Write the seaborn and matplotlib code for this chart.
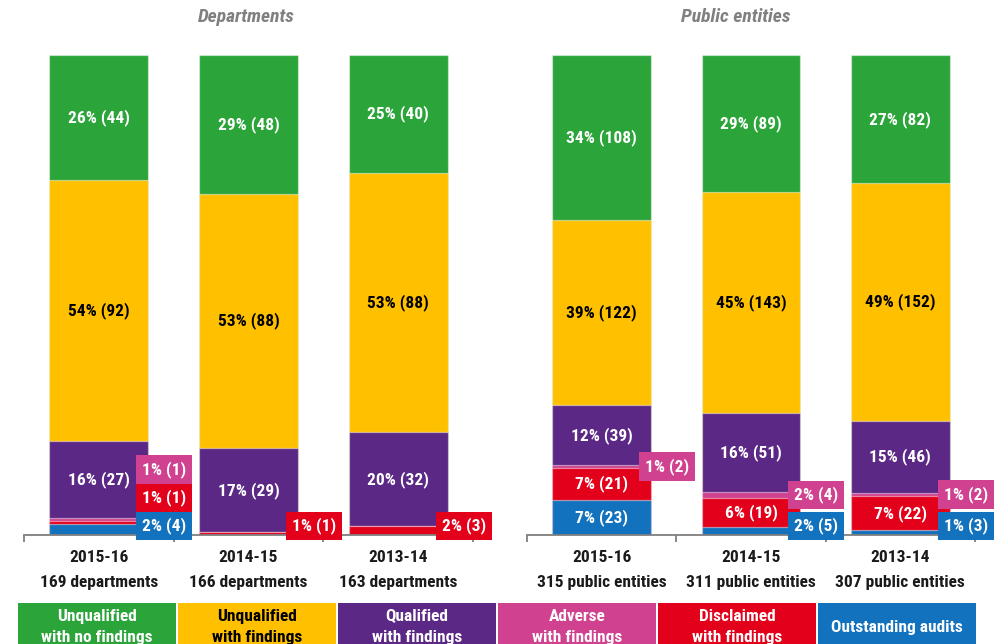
import numpy as np
import matplotlib
matplotlib.use("Agg")
import matplotlib.pyplot as plt
import seaborn as sns
from matplotlib import font_manager as fm
from matplotlib.patches import Rectangle

sns.set_theme(style="white")

# pick a narrow bold sans if one is installed
avail = {}
for f in fm.fontManager.ttflist:
    avail.setdefault(f.name, []).append(f)
FAMILY, STRETCH, SCALE = None, "normal", 1.0
for cand, sc in [("Liberation Sans Narrow", 1.0), ("Arial Narrow", 1.0),
                 ("Roboto Condensed", 1.0), ("Open Sans Condensed", 0.95),
                 ("Noto Sans Condensed", 0.95)]:
    if cand in avail:
        FAMILY, SCALE = cand, sc
        break
if FAMILY is None:
    for name, lst in avail.items():
        if ("Condensed" in name or "Narrow" in name) and "Mono" not in name \
                and "Serif" not in name and "CJK" not in name:
            FAMILY, SCALE = name, 0.95
            break
if FAMILY is None:
    if any(str(f.stretch) in ("condensed", "semi-condensed") for f in avail.get("DejaVu Sans", [])):
        FAMILY, STRETCH, SCALE = "DejaVu Sans", "condensed", 0.9
    else:
        FAMILY, SCALE = "Roboto", 0.86
plt.rcParams["font.family"] = [FAMILY, "DejaVu Sans"]
plt.rcParams["font.stretch"] = STRETCH

# ---------------- data ----------------
series = ["Unqualified\nwith no findings", "Unqualified\nwith findings",
          "Qualified\nwith findings", "Adverse\nwith findings",
          "Disclaimed\nwith findings", "Outstanding audits"]
years = ["2015-16", "2014-15", "2013-14"]

dept_totals = [169, 166, 163]
dept_unq_no = [44, 48, 40]
dept_unq_f = [92, 88, 88]
dept_qual = [27, 29, 32]
dept_adverse = [1, 0, 0]
dept_discl = [1, 1, 3]
dept_outst = [4, 0, 0]
dept_unq_no_pct = [26, 29, 25]
dept_unq_f_pct = [54, 53, 53]
dept_qual_pct = [16, 17, 20]
dept_adverse_pct = [1, 0, 0]
dept_discl_pct = [1, 1, 2]
dept_outst_pct = [2, 0, 0]

pe_totals = [315, 311, 307]
pe_unq_no = [108, 89, 82]
pe_unq_f = [122, 143, 152]
pe_qual = [39, 51, 46]
pe_adverse = [2, 4, 2]
pe_discl = [21, 19, 22]
pe_outst = [23, 5, 3]
pe_unq_no_pct = [34, 29, 27]
pe_unq_f_pct = [39, 45, 49]
pe_qual_pct = [12, 16, 15]
pe_adverse_pct = [1, 2, 1]
pe_discl_pct = [7, 6, 7]
pe_outst_pct = [7, 2, 1]

# ---------------- style ----------------
colors = ["#2BA43A", "#FFC000", "#5B2886", "#D0428F", "#E2001A", "#1372BD"]
text_colors = ["white", "black", "white", "white", "white", "white"]
LABEL_FS = 12.5 * SCALE
TITLE_FS = 14 * SCALE
BAR_W = 0.66
W, H = 995, 644

fig = plt.figure(figsize=(W / 100, H / 100), dpi=100)
axL = fig.add_axes([24 / W, 1 - 535 / H, 449 / W, 480 / H])
axR = fig.add_axes([527 / W, 1 - 535 / H, 448 / W, 480 / H])


def draw_panel(ax, counts, pcts, totals, unit):
    counts = np.array(counts, dtype=float)
    pcts = np.array(pcts)
    share = counts / np.array(totals, dtype=float) * 100
    bottoms = np.zeros_like(share)
    cum = np.zeros(share.shape[1])
    for k in range(len(series) - 1, -1, -1):
        bottoms[k] = cum
        cum = cum + share[k]
    tops = bottoms + share
    for k in range(len(series)):
        sns.barplot(x=years, y=tops[k], color=colors[k], saturation=1,
                    width=BAR_W, errorbar=None, edgecolor=(1, 1, 1, 0.45),
                    linewidth=0.9, ax=ax)
    half = 2.7
    for j in range(len(years)):
        low = -0.8
        for k in range(len(series) - 1, -1, -1):
            if counts[k, j] == 0:
                continue
            txt = f"{pcts[k, j]}% ({int(counts[k, j])})"
            center = bottoms[k, j] + share[k, j] / 2
            if share[k, j] >= 3:
                ax.text(j, center, txt, ha="center", va="center",
                        color=text_colors[k], fontsize=LABEL_FS, fontweight="bold")
            else:
                y = max(center, low + half)
                low = y + half + 0.5
                ax.annotate(txt, xy=(j + BAR_W / 2, y), xytext=(-4.3, 0),
                            textcoords="offset points", ha="left", va="center",
                            color="white", fontsize=LABEL_FS, fontweight="bold",
                            bbox=dict(boxstyle="square,pad=0.34", fc=colors[k], ec="none"),
                            annotation_clip=False, zorder=5)
    ax.set_xlim(-0.5, 2.5)
    ax.set_ylim(0, 100)
    for s in ["top", "left", "right"]:
        ax.spines[s].set_visible(False)
    ax.spines["bottom"].set_color("#7F7F7F")
    ax.spines["bottom"].set_linewidth(1.3)
    ax.set_xticks([-0.5, 0.5, 1.5, 2.5])
    ax.set_xticklabels([])
    ax.tick_params(axis="x", bottom=True, direction="out", length=5,
                   width=1.3, color="#7F7F7F")
    ax.set_yticks([])
    ax.set_xlabel("")
    ax.set_ylabel("")
    tr = ax.get_xaxis_transform()
    for j, yr in enumerate(years):
        ax.text(j, -27.5 / 480, yr, transform=tr, ha="center", va="baseline",
                fontsize=LABEL_FS, fontweight="bold", color="#1A1A1A")
        ax.text(j, -52 / 480, f"{totals[j]} {unit}", transform=tr, ha="center",
                va="baseline", fontsize=LABEL_FS, fontweight="bold", color="#1A1A1A")


draw_panel(axL,
           [dept_unq_no, dept_unq_f, dept_qual, dept_adverse, dept_discl, dept_outst],
           [dept_unq_no_pct, dept_unq_f_pct, dept_qual_pct, dept_adverse_pct,
            dept_discl_pct, dept_outst_pct],
           dept_totals, "departments")
draw_panel(axR,
           [pe_unq_no, pe_unq_f, pe_qual, pe_adverse, pe_discl, pe_outst],
           [pe_unq_no_pct, pe_unq_f_pct, pe_qual_pct, pe_adverse_pct,
            pe_discl_pct, pe_outst_pct],
           pe_totals, "public entities")

fig.text(246 / W, 1 - 17 / H, "Departments", ha="center", va="center",
         fontsize=TITLE_FS, fontweight="bold", fontstyle="italic", color="#808080")
fig.text(736 / W, 1 - 17 / H, "Public entities", ha="center", va="center",
         fontsize=TITLE_FS, fontweight="bold", fontstyle="italic", color="#808080")

for i, name in enumerate(series):
    x0 = 18 + 160 * i
    fig.patches.append(Rectangle((x0 / W, 1 - 670 / H), 158 / W, 67 / H,
                                 transform=fig.transFigure, fc=colors[i], ec="none"))
    lines = name.split("\n")
    xc = (x0 + 79) / W
    if len(lines) == 2:
        fig.text(xc, 1 - 621 / H, lines[0], ha="center", va="baseline",
                 fontsize=LABEL_FS, fontweight="bold", color=text_colors[i])
        fig.text(xc, 1 - 642 / H, lines[1], ha="center", va="baseline",
                 fontsize=LABEL_FS, fontweight="bold", color=text_colors[i])
    else:
        fig.text(xc, 1 - 632 / H, lines[0], ha="center", va="baseline",
                 fontsize=LABEL_FS, fontweight="bold", color=text_colors[i])

fig.savefig("out.png", dpi=100)
